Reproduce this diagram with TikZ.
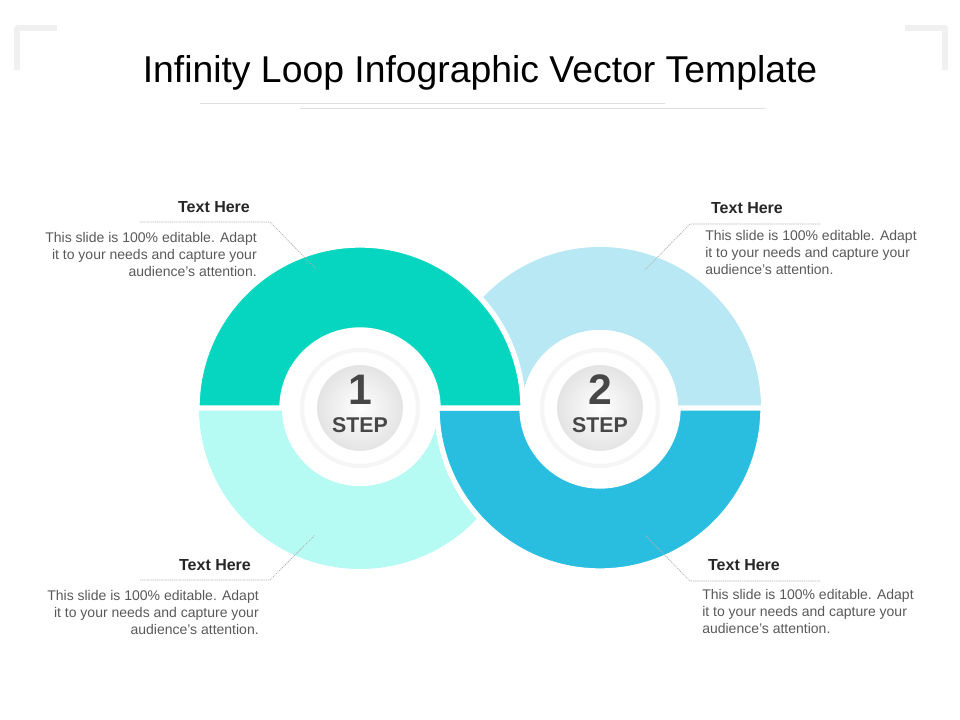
\documentclass[tikz,border=0pt]{standalone}
\usepackage{fontspec}
\setmainfont{Liberation Sans}
\setsansfont{Liberation Sans}
\begin{document}
\begin{tikzpicture}[x=0.75pt,y=0.75pt,font=\sffamily, line join=round, line cap=round]
			\definecolor{tealdark}{HTML}{06D6C0} \definecolor{tealpale}{HTML}{B5FBF3}
			\definecolor{bluepale}{HTML}{B9E8F5} \definecolor{bluedark}{HTML}{29BDE0}
			\definecolor{textgray}{HTML}{595959}
			\tikzset{
				bodytext/.style={font=\fontsize{10.5}{12.6}\selectfont, text=textgray, inner sep=0pt},
				headtext/.style={font=\fontsize{12}{14}\selectfont\bfseries, text=black!85, inner sep=0pt},
				leader/.style={gray!60, densely dotted, line width=0.6pt},
				gapline/.style={draw=white, line width=4pt}
			}
			\def\ro{161} \def\rd{163} \def\ri{78}
			\useasboundingbox (0,0) rectangle (960,720);
			% corner marks and title
			\draw[gray!12, line width=4pt, line cap=butt] (17,650)--(17,692)--(57,692);
			\draw[gray!12, line width=4pt, line cap=butt] (945,650)--(945,692)--(905,692);
			\node (title) at (480,647) {\fontsize{28}{34}\selectfont Infinity Loop Infographic Vector Template};
			\draw[gray!25, line width=0.5pt] (200,617)--(665,617);
			\draw[gray!25, line width=0.5pt] (300,612)--(765,612);
			% rings: pale halves first, dark halves on top
			\coordinate (cl) at (360,312); \coordinate (cr) at (600,312);
			\fill[tealpale] (cl) ++(180:\ro) arc[start angle=180,end angle=360,radius=\ro] -- ++(-\ro+\ri,0)
				arc[start angle=360,end angle=180,radius=\ri] -- cycle;
			\fill[bluepale] (cr) ++(0:\ro) arc[start angle=0,end angle=180,radius=\ro] -- ++(\ro-\ri,0)
				arc[start angle=180,end angle=0,radius=\ri] -- cycle;
			\filldraw[fill=bluedark, gapline] (cr) ++(180:\rd) arc[start angle=180,end angle=360,radius=\rd] -- ++(-\rd+\ri,0)
				arc[start angle=360,end angle=180,radius=\ri] -- cycle;
			\filldraw[fill=tealdark, gapline] (cl) ++(0:\rd) arc[start angle=0,end angle=180,radius=\rd] -- ++(\rd-\ri,0)
				arc[start angle=180,end angle=0,radius=\ri] -- cycle;
			% step badges
			\foreach \c/\n in {cl/1, cr/2}{
				\fill[white] (\c) circle (\ri);
				\draw[gray!8, line width=3pt] (\c) circle (58);
				\shade[inner color=white, outer color=gray!22] (\c) circle (44);
				\draw[white, line width=1.5pt] (\c) circle (44);
				\node[text=black!72, font=\bfseries\fontsize{32}{32}\selectfont, inner sep=0pt] (num\n) at ([yshift=14]\c) {\n};
				\node[text=black!72, font=\bfseries\fontsize{16}{18}\selectfont, inner sep=0pt] (step\n) at ([yshift=-13]\c) {STEP};
			}
			% callouts
			\node[headtext, anchor=base] (h1) at (214,507) {Text Here};
			\draw[leader] (140,498)--(270,498)--(315,452);
			\node[bodytext, align=right, anchor=north east] (b1) at (257,488)
				{This slide is 100\% editable. Adapt\\it to your needs and capture your\\audience's attention.};
			\node[headtext, anchor=base] (h2) at (747,506) {Text Here};
			\draw[leader] (820,496)--(690,496)--(645,450);
			\node[bodytext, align=left, anchor=north west] (b2) at (705,490)
				{This slide is 100\% editable. Adapt\\it to your needs and capture your\\audience's attention.};
			\node[headtext, anchor=base] (h3) at (215,149) {Text Here};
			\draw[leader] (140,140)--(270,140)--(315,185);
			\node[bodytext, align=right, anchor=north east] (b3) at (259,130)
				{This slide is 100\% editable. Adapt\\it to your needs and capture your\\audience's attention.};
			\node[headtext, anchor=base] (h4) at (744,149) {Text Here};
			\draw[leader] (820,139)--(690,139)--(645,185);
			\node[bodytext, align=left, anchor=north west] (b4) at (702,131)
				{This slide is 100\% editable. Adapt\\it to your needs and capture your\\audience's attention.};
		\end{tikzpicture}
\end{document}
